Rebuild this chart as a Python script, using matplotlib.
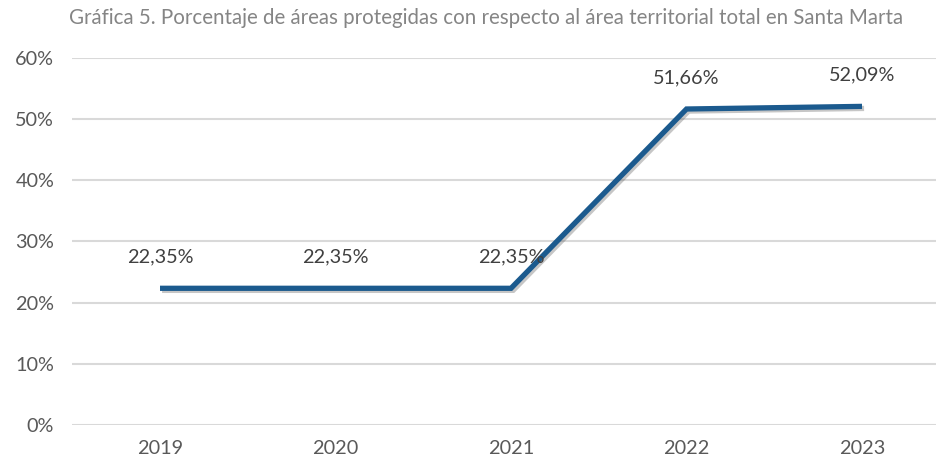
import matplotlib
matplotlib.use("Agg")
import matplotlib.pyplot as plt
import matplotlib.patheffects as pe
from matplotlib.ticker import FuncFormatter

# data
years = ["2019", "2020", "2021", "2022", "2023"]
pct_protegido = [22.35, 22.35, 22.35, 51.66, 52.09]
y_ticks = [0, 10, 20, 30, 40, 50, 60]

titulo = "Gráfica 5. Porcentaje de áreas protegidas con respecto al área territorial total en Santa Marta"

plt.rcParams["font.family"] = ["Lato", "DejaVu Sans"]

fig = plt.figure(figsize=(9.36, 4.65), dpi=100)
fig.patch.set_facecolor("white")
ax = fig.add_axes([0.0772, 0.086, 0.9375, 0.7893])

x = list(range(len(years)))
ax.plot(x, pct_protegido, color="#1b5a8e", lw=3.8, solid_joinstyle="miter",
        solid_capstyle="butt", zorder=3,
        path_effects=[pe.SimpleLineShadow(offset=(1.5, -1.5), shadow_color="#444444", alpha=0.3),
                      pe.Normal()])

# data labels
for xi, v in zip(x, pct_protegido):
    ax.annotate(f"{v:.2f}%".replace(".", ","), (xi, v), xytext=(0, 31),
                textcoords="offset pixels", ha="center", va="center",
                fontsize=14.3, color="#404040", zorder=4)

ax.set_xlim(-0.5, len(years) - 0.5)
ax.set_ylim(0, 60)
ax.set_xticks(x)
ax.set_xticklabels(years)
ax.set_yticks(y_ticks)
ax.yaxis.set_major_formatter(FuncFormatter(lambda v, _: f"{v:.0f}%"))

ax.grid(axis="y", color="#d9d9d9", lw=1.5)
ax.set_axisbelow(True)
for s in ax.spines.values():
    s.set_visible(False)
ax.tick_params(axis="both", length=0, labelsize=14.3, colors="#595959")
ax.tick_params(axis="y", pad=13)
ax.tick_params(axis="x", pad=11)

fig.text(0.519, 0.961, titulo, ha="center", va="center", fontsize=14.8, color="#858585")

fig.savefig("out.png", dpi=100)
